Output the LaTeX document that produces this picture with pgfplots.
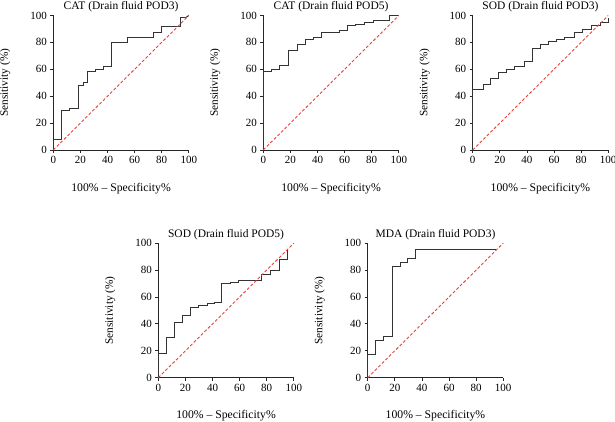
\documentclass[border=0pt]{standalone}
\usepackage{fontspec}
\setmainfont{Liberation Serif}
\usepackage{pgfplots}
\pgfplotsset{compat=1.18}
\definecolor{curve}{HTML}{333333}
\definecolor{diag}{HTML}{E8413A}
\pgfplotsset{
  roc/.style={
    scale only axis, width=135.5pt, height=134.5pt,
    anchor=south west,
    xmin=0, xmax=100, ymin=0, ymax=100,
    axis lines=left, axis line style={-, line width=0.8pt, black!85},
    xtick={0,20,...,100}, ytick={0,20,...,100},
    tick align=outside, major tick length=3pt,
    tick style={line width=0.8pt, black!85},
    /pgf/number format/assume math mode=true,
    font=\fontsize{11}{13}\selectfont,
    ticklabel style={font=\fontsize{11}{13}\selectfont},
    title style={font=\fontsize{11.5}{13}\selectfont, yshift=-6pt},
    xlabel={100\% -- Specificity\%},
    ylabel={Sensitivity (\%)},
    xlabel style={font=\fontsize{11.7}{14}\selectfont, yshift=-12pt},
    ylabel style={font=\fontsize{11.3}{13}\selectfont, yshift=13pt},
    clip=false,
  },
  curve/.style={color=curve, line width=1pt, const plot, mark=none},
  diagline/.style={color=diag, line width=0.9pt, dash pattern=on 3pt off 2pt, mark=none},
}
\begin{document}
\begin{tikzpicture}
\useasboundingbox (0,0) rectangle (615pt,422pt);
% Panel 1
\begin{axis}[roc, at={(53.3pt,272pt)}, title={CAT (Drain fluid POD3)}]
\addplot[curve] coordinates {(0,0) (0,8) (6,29) (12,30.5) (18.5,48) (22,50) (25,58.5) (31,60) (37,62) (43,80) (55,84) (74,87.5) (80,91.5) (94,98.3) (97.5,98.3)};
\addplot[color=curve, line width=1pt, mark=none] coordinates {(97.5,98.3) (100,100)};
\addplot[diagline] coordinates {(0,0) (100,100)};
\end{axis}
% Panel 2
\begin{axis}[roc, at={(263.3pt,272pt)}, title={CAT (Drain fluid POD5)}]
\addplot[curve] coordinates {(0,0) (0,58.5) (6,59.5) (12,63) (18.5,74) (25,78.5) (31,82) (37,84) (43,87.5) (56,89) (62,92.5) (68,93.5) (75,95) (81,96.5) (93,100) (100,100)};
\addplot[diagline] coordinates {(0,0) (100,100)};
\end{axis}
% Panel 3
\begin{axis}[roc, at={(472.7pt,272pt)}, title={SOD (Drain fluid POD3)}]
\addplot[curve] coordinates {(0,0) (0,45) (8,48.5) (13.5,53) (19,57.5) (25,59.5) (31,62) (38,66) (44,75.5) (50,78.5) (56,81) (62,82) (68,84) (75,87) (81,89.5) (88,92.5) (94,94.5) (100,98)};
\addplot[diagline] coordinates {(0,0) (100,100)};
\end{axis}
% Panel 4
\begin{axis}[roc, at={(158.3pt,44.3pt)}, title={SOD (Drain fluid POD5)}]
\addplot[curve] coordinates {(0,0) (0,18) (6,30) (12,41) (18,46) (24,52) (30,54) (36,55) (41.5,56) (47,70) (53,71) (59,72.5) (76.5,76.5) (83,79.5) (89.5,88) (95,95)};
\addplot[diagline] coordinates {(0,0) (100,100)};
\end{axis}
% Panel 5
\begin{axis}[roc, at={(367.7pt,44.3pt)}, title={MDA (Drain fluid POD3)}]
\addplot[curve] coordinates {(0,0) (0,17.5) (6,27.5) (12,31) (18,83) (24,85.5) (29.5,88.5) (35.5,95) (95,95)};
\addplot[diagline] coordinates {(0,0) (100,100)};
\end{axis}
\end{tikzpicture}
\end{document}
